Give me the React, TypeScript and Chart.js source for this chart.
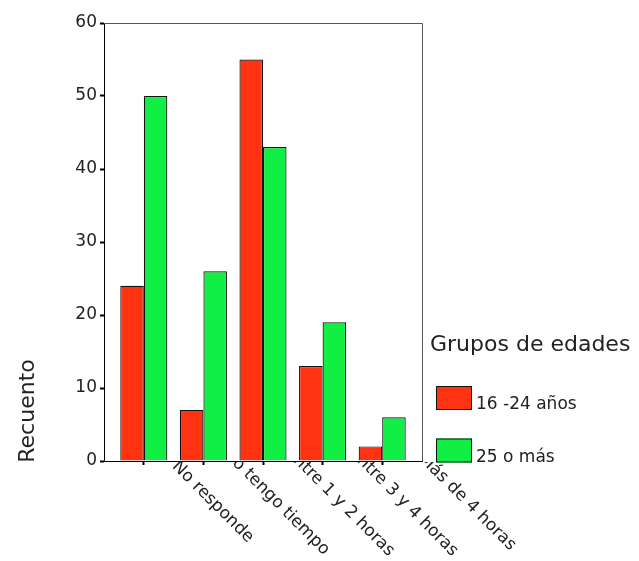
import React, { useEffect, useRef } from 'react';
import { Chart, registerables } from 'chart.js';

Chart.register(...registerables);

const categories = ['No responde', 'No tengo tiempo', 'Entre 1 y 2 horas', 'Entre 3 y 4 horas', 'Más de 4 horas'];
const seriesNames = ['16 -24 años', '25 o más'];
const young = [24, 7, 55, 13, 2];
const older = [50, 26, 43, 19, 6];
const yMin = 0;
const yMax = 60;
const yStep = 10;
const legendTitle = 'Grupos de edades';
const yTitle = 'Recuento';

const RED = '#ff3311';
const GREEN = '#11ee44';
const FONT = "'DejaVu Sans', sans-serif";
const TEXT = '#222';

const decor = {
  id: 'decor',
  afterDraw(chart: any) {
    const { ctx, chartArea: ca, scales } = chart;
    ctx.save();
    // top and right frame
    ctx.strokeStyle = '#555';
    ctx.lineWidth = 1;
    ctx.beginPath();
    ctx.moveTo(ca.left, ca.top + 0.5);
    ctx.lineTo(ca.right + 0.5, ca.top + 0.5);
    ctx.lineTo(ca.right + 0.5, ca.bottom);
    ctx.stroke();

    // rotated category labels, clipped below the axis
    const xl = scales.xl;
    ctx.save();
    ctx.beginPath();
    ctx.rect(0, ca.bottom + 1, chart.width, chart.height);
    ctx.clip();
    ctx.font = `17px ${FONT}`;
    ctx.fillStyle = TEXT;
    ctx.textAlign = 'center';
    ctx.textBaseline = 'middle';
    categories.forEach((c, i) => {
      const cx = xl.getPixelForValue(i) + 77;
      const cy = ca.bottom + 41;
      ctx.save();
      ctx.translate(cx, cy);
      ctx.rotate(Math.PI / 4);
      ctx.fillText(c, 0, 0);
      ctx.restore();
    });
    ctx.restore();

    // y title
    ctx.save();
    ctx.font = `22px ${FONT}`;
    ctx.fillStyle = TEXT;
    ctx.textAlign = 'center';
    ctx.textBaseline = 'alphabetic';
    ctx.translate(34, 411);
    ctx.rotate(-Math.PI / 2);
    ctx.fillText(yTitle, 0, 0);
    ctx.restore();

    // legend
    ctx.fillStyle = TEXT;
    ctx.font = `22px ${FONT}`;
    ctx.textAlign = 'left';
    ctx.textBaseline = 'alphabetic';
    ctx.fillText(legendTitle, ca.right + 8, 351);
    chart.data.datasets.forEach((ds: any, i: number) => {
      const bx = ca.right + 14;
      const by = 386 + i * 52.5;
      ctx.fillStyle = ds.backgroundColor;
      ctx.fillRect(bx, by, 36, 24);
      ctx.strokeStyle = '#111';
      ctx.lineWidth = 1;
      ctx.strokeRect(bx + 0.5, by + 0.5, 35, 23);
      ctx.fillStyle = TEXT;
      ctx.font = `17px ${FONT}`;
      ctx.fillText(ds.label, bx + 40, by + 23);
    });
    ctx.restore();
  },
};

export default function App() {
  const ref = useRef<HTMLCanvasElement>(null);
  useEffect(() => {
    const chart = new Chart(ref.current as HTMLCanvasElement, {
      type: 'bar',
      data: {
        datasets: [
          {
            label: seriesNames[0],
            data: categories.map((_, i) => ({ x: i, y: young[i] })),
            backgroundColor: RED,
            borderColor: '#111',
            borderWidth: 1.2,
            categoryPercentage: 0.79,
            barPercentage: 1,
          },
          {
            label: seriesNames[1],
            data: categories.map((_, i) => ({ x: i, y: older[i] })),
            backgroundColor: GREEN,
            borderColor: '#111',
            borderWidth: 1.2,
            categoryPercentage: 0.79,
            barPercentage: 1,
          },
        ],
      } as any,
      options: {
        animation: false,
        responsive: false,
        maintainAspectRatio: false,
        layout: { padding: { left: 0, top: 23, right: 217, bottom: 0 } },
        plugins: { legend: { display: false }, tooltip: { enabled: false } },
        scales: {
          x: {
            type: 'linear',
            bounds: 'data',
            min: -0.668,
            max: categories.length - 1 + 0.668,
            offset: false,
            ticks: { stepSize: 1, includeBounds: false, callback: () => '', padding: 0 },
            afterBuildTicks: (s: any) => { s.ticks = categories.map((_, i) => ({ value: i })); },
            grid: { offset: false, drawOnChartArea: false, drawTicks: true, tickLength: 4, tickWidth: 2, color: '#000' },
            border: { color: '#000', width: 1 },
            afterFit: (s: any) => { s.height = 100; },
          },
          xl: {
            type: 'category',
            labels: categories,
            offset: true,
            display: false,
          },
          y: {
            min: yMin,
            max: yMax,
            ticks: { stepSize: yStep, color: TEXT, font: { family: FONT, size: 17 }, padding: 3 },
            grid: { drawOnChartArea: false, drawTicks: true, tickLength: 4, tickWidth: 2, color: '#000' },
            border: { color: '#000', width: 1 },
            afterFit: (s: any) => { s.width = 104; },
          },
        },
      } as any,
      plugins: [decor],
    });
    return () => chart.destroy();
  }, []);
  return (
    <div style={{ position: 'fixed', left: 0, top: 0, width: 639, height: 561, background: '#fff' }}>
      <canvas ref={ref} width={639} height={561} style={{ display: 'block' }} />
    </div>
  );
}
